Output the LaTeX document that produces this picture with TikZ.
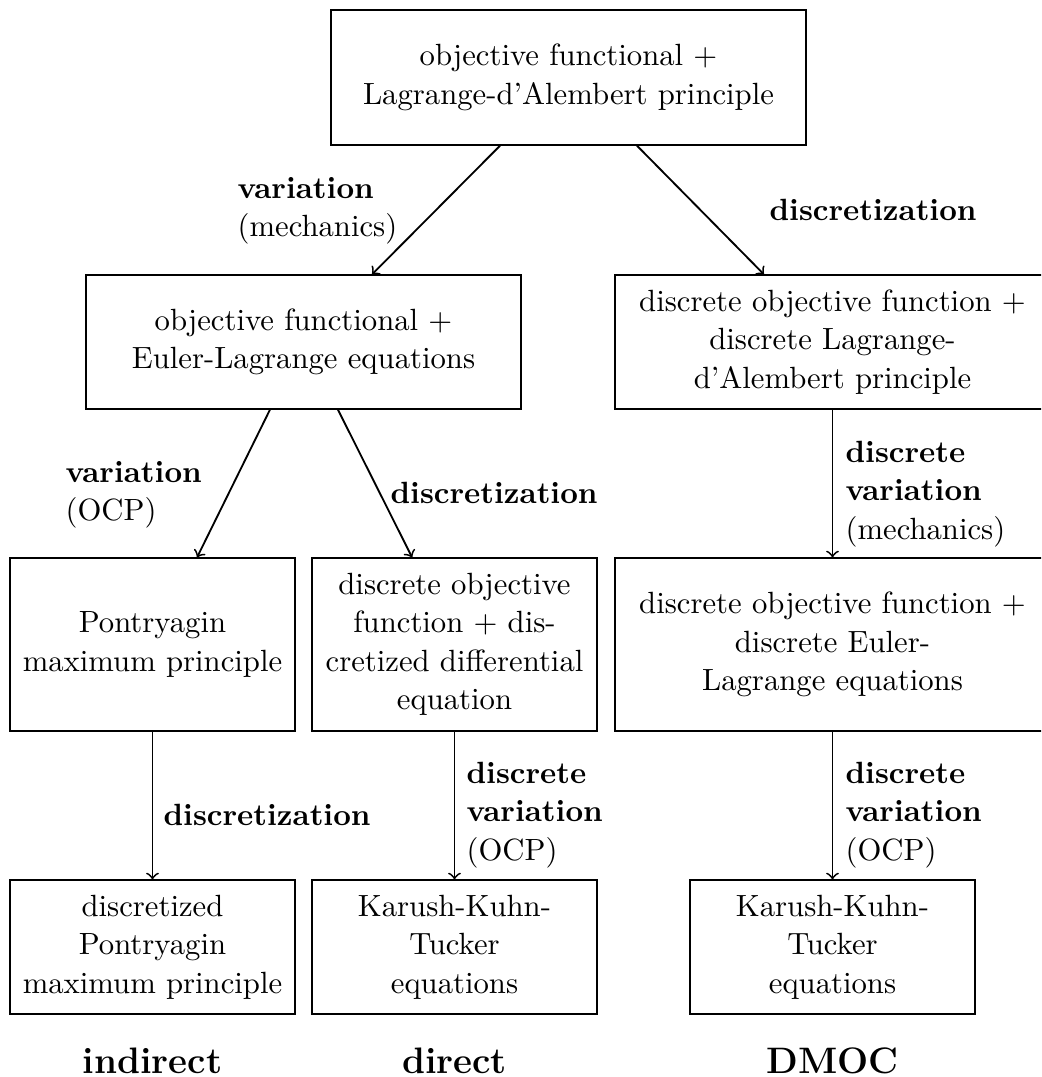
\documentclass[tikz,border=0pt]{standalone}
\usetikzlibrary{calc}
\begin{document}
\begin{tikzpicture}[x=0.3257pt,y=-0.3257pt,
  box/.style={draw, line width=0.4pt, align=center, inner sep=2pt, font=\fontsize{10}{12.5}\selectfont},
  topbox/.style={box, minimum width=154.7pt, minimum height=44pt},
  widebox/.style={box, minimum width=141.7pt, minimum height=43.6pt},
  tallwide/.style={box, minimum width=141.7pt, minimum height=56.3pt},
  narrowtall/.style={box, minimum width=92.8pt, minimum height=56.3pt},
  narrowbox/.style={box, minimum width=92.8pt, minimum height=43.6pt},
  lab/.style={anchor=north west, inner sep=0pt, align=left, font=\fontsize{10}{12.5}\selectfont},
  colname/.style={anchor=base, inner sep=0pt, font=\large\bfseries},
  conn/.style={->, line width=0.6pt}
]
\useasboundingbox (0,0) rectangle (1041,1077);
\clip (0,0) rectangle (1041,1077);

% boxes
\node[topbox] (top) at (568.5,77.5) {objective functional $+$\\Lagrange-d'Alembert principle};
\node[widebox] (b2) at (303.5,342) {objective functional $+$\\Euler-Lagrange equations};
\node[widebox] (b3) at (832.5,342) {discrete objective function $+$\\discrete Lagrange-\\d'Alembert principle};
\node[narrowtall] (r3a) at (152.5,644.5) {Pontryagin\\maximum principle};
\node[narrowtall] (r3b) at (454.5,644.5) {discrete objective\\function $+$ dis-\\cretized differential\\equation};
\node[tallwide] (r3c) at (832.5,644.5) {discrete objective function $+$\\discrete Euler-\\Lagrange equations};
\node[narrowbox] (r4a) at (152.5,947) {discretized\\Pontryagin\\maximum principle};
\node[narrowbox] (r4b) at (454.5,947) {Karush-Kuhn-\\Tucker\\equations};
\node[narrowbox] (r4c) at (832.5,947) {Karush-Kuhn-\\Tucker\\equations};

% connectors
\draw[conn] ([xshift=-22.3pt]top.south) -- ([xshift=22.3pt]b2.north);
\draw[conn] ([xshift=22.3pt]top.south) -- ([xshift=-22.3pt]b3.north);
\draw[conn] ([xshift=-10.9pt]b2.south) -- ([xshift=14.5pt]r3a.north);
\draw[conn] ([xshift=11.2pt]b2.south) -- ([xshift=-13.8pt]r3b.north);
\draw[conn] (b3.south) -- (r3c.north);
\draw[conn] (r3a.south) -- (r4a.north);
\draw[conn] (r3b.south) -- (r4b.north);
\draw[conn] (r3c.south) -- (r4c.north);

% labels
\node[lab] (l1) at (237,171) {\strut\textbf{variation}\\(mechanics)};
\node[lab] (l2) at (769,193) {\strut\textbf{discretization}};
\node[lab] (l3) at (65,455) {\strut\textbf{variation}\\(OCP)};
\node[lab] (l4) at (390,476) {\strut\textbf{discretization}};
\node[lab] (l5) at (845,435) {\strut\textbf{discrete}\\\textbf{variation}\\(mechanics)};
\node[lab] (l6) at (163,798) {\strut\textbf{discretization}};
\node[lab] (l7) at (466,756) {\strut\textbf{discrete}\\\textbf{variation}\\(OCP)};
\node[lab] (l8) at (845,756) {\strut\textbf{discrete}\\\textbf{variation}\\(OCP)};

% column names
\node[colname] (c1) at (152.5,1073) {indirect};
\node[colname] (c2) at (454.5,1073) {direct};
\node[colname] (c3) at (832.5,1073) {DMOC};
\end{tikzpicture}
\end{document}
